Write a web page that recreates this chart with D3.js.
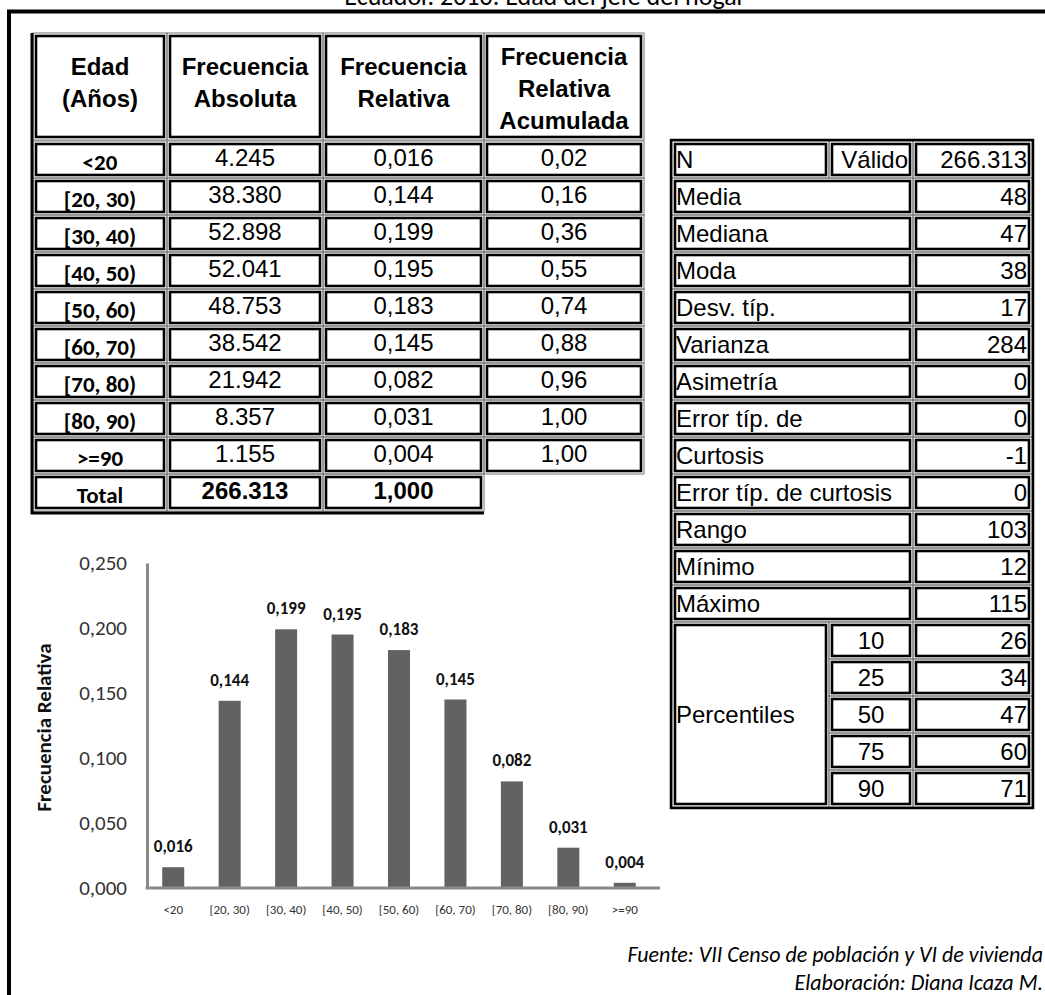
<!DOCTYPE html>
<html><head><meta charset="utf-8">
<script src="https://cdn.jsdelivr.net/npm/d3@7"></script>
<style>body{margin:0;background:#fff}svg{display:block}</style>
</head><body><svg id="c" width="1045" height="995"></svg>
<script>
// ---------- data ----------
const title = "Ecuador. 2010. Edad del jefe del hogar";
const categories = ["<20","[20, 30)","[30, 40)","[40, 50)","[50, 60)","[60, 70)","[70, 80)","[80, 90)",">=90"];
const absFreq = ["4.245","38.380","52.898","52.041","48.753","38.542","21.942","8.357","1.155"];
const relFreq = [0.016,0.144,0.199,0.195,0.183,0.145,0.082,0.031,0.004];
const cumFreq = ["0,02","0,16","0,36","0,55","0,74","0,88","0,96","1,00","1,00"];
const totalRow = ["Total","266.313","1,000"];
const headers = [["Edad","(Años)"],["Frecuencia","Absoluta"],["Frecuencia","Relativa"],["Frecuencia","Relativa","Acumulada"]];
const nRow = ["N","Válido","266.313"];
const statLabels = ["Media","Mediana","Moda","Desv. típ.","Varianza","Asimetría","Error típ. de","Curtosis","Error típ. de curtosis","Rango","Mínimo","Máximo"];
const statValues = ["48","47","38","17","284","0","0","-1","0","103","12","115"];
const percentileLabel = "Percentiles";
const percentiles = ["10","25","50","75","90"];
const percentileValues = ["26","34","47","60","71"];
const yTicks = [0,0.05,0.10,0.15,0.20,0.25];
const yLabel = "Frecuencia Relativa";
const notes = ["Fuente: VII Censo de población y VI de vivienda","Elaboración: Diana Icaza M."];

// ---------- setup ----------
const svg = d3.select("#c");
const loc = d3.formatLocale({decimal:",",thousands:".",grouping:[3],currency:["",""]});
const f3 = loc.format(".3f");
const ARIAL = "'Liberation Sans', Arial, sans-serif";
const CAL = "Carlito, Lato, 'Open Sans', sans-serif";

// title (cut off at top, as in the source) and frame
svg.append("text").attr("x",545).attr("y",5).attr("text-anchor","middle")
  .attr("font-family",CAL).attr("font-size",26).attr("fill","#000").text(title);
svg.append("line").attr("x1",7).attr("x2",1045).attr("y1",11.5).attr("y2",11.5).attr("stroke","#000").attr("stroke-width",4);
svg.append("line").attr("x1",9).attr("x2",9).attr("y1",10).attr("y2",995).attr("stroke","#000").attr("stroke-width",4);

function cell(g,x0,y0,x1,y1){
  g.append("rect").attr("x",x0).attr("y",y0).attr("width",x1-x0).attr("height",y1-y0)
    .attr("fill","none").attr("stroke","#777").attr("stroke-width",1);
  g.append("rect").attr("x",x0+3).attr("y",y0+3).attr("width",x1-x0-6).attr("height",y1-y0-6)
    .attr("fill","#fff").attr("stroke","#000").attr("stroke-width",2.6);
}
function txt(g,x,y,s,o){
  o=o||{};
  return g.append("text").attr("x",x).attr("y",y).attr("dy","0.36em")
    .attr("text-anchor",o.anchor||"middle").attr("font-family",o.family||ARIAL)
    .attr("font-size",o.size||24).attr("font-weight",o.weight||"normal").attr("fill","#000").text(s);
}

// ---------- left frequency table ----------
const L = svg.append("g");
const lx = [33,167,323,484,644];
const hTop = 33, hBot = 140, rTop = 141, R = 37;
headers.forEach((h,i)=>{
  cell(L,lx[i],hTop,lx[i+1],hBot);
  const cy = h.length===3 ? 88 : 82;
  h.forEach((line,j)=>txt(L,(lx[i]+lx[i+1])/2, cy+(j-(h.length-1)/2)*32, line,{weight:"bold",size:24}));
});
categories.forEach((c,i)=>{
  const y0 = rTop+i*R, y1=y0+R, cy=(y0+y1)/2;
  const vals=[c,absFreq[i],f3(relFreq[i]),cumFreq[i]];
  vals.forEach((v,j)=>{
    cell(L,lx[j],y0,lx[j+1],y1);
    if(j===0) txt(L,(lx[j]+lx[j+1])/2,cy+2,v,{family:CAL,weight:"bold",size:23});
    else txt(L,(lx[j]+lx[j+1])/2,cy-2,v,{size:24});
  });
});
{
  const y0=rTop+categories.length*R, y1=y0+R, cy=(y0+y1)/2;
  totalRow.forEach((v,j)=>{
    cell(L,lx[j],y0,lx[j+1],y1);
    if(j===0) txt(L,(lx[j]+lx[j+1])/2,cy+2,v,{family:CAL,weight:"bold",size:23});
    else txt(L,(lx[j]+lx[j+1])/2,cy-2,v,{weight:"bold",size:24});
  });
  L.append("path").attr("d",`M${lx[0]-1},${hTop} V${y1+2} H${lx[3]}`)
    .attr("fill","none").attr("stroke","#000").attr("stroke-width",3);
}

// ---------- right statistics table ----------
const S = svg.append("g");
const sx = [672,829,913,1032];
const sTop = 141;
const labPad = 4, valPad = 5;
cell(S,sx[0],sTop,sx[1],sTop+R); cell(S,sx[1],sTop,sx[2],sTop+R); cell(S,sx[2],sTop,sx[3],sTop+R);
txt(S,sx[0]+labPad,sTop+R/2,nRow[0],{anchor:"start"});
txt(S,sx[2]-valPad,sTop+R/2,nRow[1],{anchor:"end"});
txt(S,sx[3]-valPad,sTop+R/2,nRow[2],{anchor:"end"});
statLabels.forEach((l,i)=>{
  const y0=sTop+(i+1)*R, cy=y0+R/2;
  cell(S,sx[0],y0,sx[2],y0+R); cell(S,sx[2],y0,sx[3],y0+R);
  txt(S,sx[0]+labPad,cy,l,{anchor:"start"});
  txt(S,sx[3]-valPad,cy,statValues[i],{anchor:"end"});
});
{
  const p0=sTop+(statLabels.length+1)*R;
  cell(S,sx[0],p0,sx[1],p0+percentiles.length*R);
  txt(S,sx[0]+labPad,p0+percentiles.length*R/2,percentileLabel,{anchor:"start"});
  percentiles.forEach((p,i)=>{
    const y0=p0+i*R, cy=y0+R/2;
    cell(S,sx[1],y0,sx[2],y0+R); cell(S,sx[2],y0,sx[3],y0+R);
    txt(S,(sx[1]+sx[2])/2,cy,p);
    txt(S,sx[3]-valPad,cy,percentileValues[i],{anchor:"end"});
  });
  S.append("rect").attr("x",sx[0]-1).attr("y",sTop-1).attr("width",sx[3]-sx[0]+2).attr("height",p0+percentiles.length*R-sTop+2)
    .attr("fill","none").attr("stroke","#000").attr("stroke-width",2.5);
}

// ---------- bar chart ----------
const C = svg.append("g");
const x = d3.scaleBand().domain(categories).range([145,653]);
const y = d3.scaleLinear().domain([0,0.25]).range([888,563]);
const bw = x.bandwidth()*0.39;
const axisX0 = 147;
C.selectAll("rect.bar").data(relFreq).join("rect").attr("class","bar")
  .attr("x",(d,i)=>x(categories[i])+x.bandwidth()/2-bw/2).attr("width",bw)
  .attr("y",d=>y(d)).attr("height",d=>y(0)-y(d)).attr("fill","#626262");
C.selectAll("text.val").data(relFreq).join("text").attr("class","val")
  .attr("x",(d,i)=>x(categories[i])+x.bandwidth()/2).attr("y",d=>y(d)-15)
  .attr("text-anchor","middle").attr("font-family",CAL).attr("font-weight","bold")
  .attr("font-size",17).attr("fill","#111").text(d=>f3(d));
const ya = C.append("g").attr("transform",`translate(${axisX0},0)`)
  .call(d3.axisLeft(y).tickValues(yTicks).tickSize(0).tickSizeOuter(0).tickPadding(20).tickFormat(f3));
ya.select(".domain").attr("stroke","#8a8a8a").attr("stroke-width",3);
ya.selectAll("text").attr("font-family",CAL).attr("font-size",21).attr("fill","#333");
const xa = C.append("g").attr("transform",`translate(0,${y(0)})`)
  .call(d3.axisBottom(x).tickSize(0).tickSizeOuter(0).tickPadding(17));
xa.select(".domain").remove();
xa.selectAll("text").attr("font-family",CAL).attr("font-size",13).attr("fill","#333");
C.append("line").attr("x1",axisX0-1.5).attr("x2",x.range()[1]+7).attr("y1",y(0)).attr("y2",y(0))
  .attr("stroke","#8a8a8a").attr("stroke-width",3);
C.append("text").attr("transform",`translate(43,${(y(0)+y(0.25))/2+2}) rotate(-90)`)
  .attr("text-anchor","middle").attr("dy","0.36em").attr("font-family",CAL).attr("font-weight","bold")
  .attr("font-size",21).attr("fill","#111").text(yLabel);

// ---------- notes ----------
notes.forEach((n,i)=>{
  svg.append("text").attr("x",1043).attr("y",i===0?962:990).attr("text-anchor","end")
    .attr("font-family",CAL).attr("font-style","italic").attr("font-size",22).attr("fill","#000").text(n);
});
</script></body></html>
